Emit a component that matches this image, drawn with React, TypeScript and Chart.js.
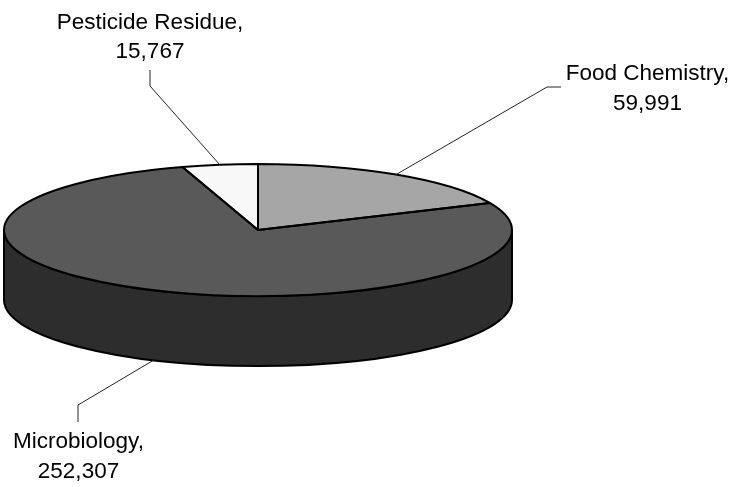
import React, { useEffect, useRef } from "react";
import { Chart, registerables } from "chart.js";

Chart.register(...registerables);

const categories = ["Food Chemistry", "Microbiology", "Pesticide Residue"];
const values = [59991, 252307, 15767];
const topColors = ["#a6a6a6", "#595959", "#f8f8f8"];
const sideColors = ["#535353", "#2d2d2d", "#7c7c7c"];

// Ellipse of the tilted pie top and the height of its wall.
const CX = 258;
const CY = 230;
const RX = 254;
const RY = 66;
const DEPTH = 70;

// Label centre, line baselines and leader elbow for each slice.
const labelX = [647.5, 78.5, 150];
const labelY = [[74, 104], [442, 472], [23, 52]];
const elbows = [
  [[561, 87], [547, 87]],
  [[78, 422], [78, 405]],
  [[150, 70], [150, 86]],
];

const FONT = '22.5px "Liberation Sans", Arial, sans-serif';

function tiltedArc(ctx: CanvasRenderingContext2D, start: number, end: number, dy: number, ccw = false) {
  ctx.ellipse(CX, CY + dy, RX, RY, 0, start, end, ccw);
}

const tiltedPie = {
  id: "tiltedPie",
  beforeDatasetsDraw(chart: any) {
    const { ctx } = chart;
    const arcs = chart.getDatasetMeta(0).data;
    ctx.save();
    // Wall of the disc: only the front half, from 0 to PI, can be seen.
    arcs.forEach((arc: any, i: number) => {
      for (const shift of [0, Math.PI * 2]) {
        const a = Math.max(arc.startAngle + shift, 0);
        const b = Math.min(arc.endAngle + shift, Math.PI);
        if (b <= a) continue;
        ctx.beginPath();
        tiltedArc(ctx, a, b, 0);
        tiltedArc(ctx, b, a, DEPTH, true);
        ctx.closePath();
        ctx.fillStyle = sideColors[i];
        ctx.fill();
        ctx.lineWidth = 2;
        ctx.lineJoin = "round";
        ctx.strokeStyle = "#000";
        ctx.stroke();
      }
    });
    // Flatten the circular slices into the ellipse of the top.
    const first = arcs[0];
    ctx.translate(CX, CY);
    ctx.scale(RX / first.outerRadius, RY / first.outerRadius);
    ctx.translate(-first.x, -first.y);
  },
  afterDatasetsDraw(chart: any) {
    const { ctx } = chart;
    const arcs = chart.getDatasetMeta(0).data;
    ctx.restore();
    ctx.save();
    ctx.strokeStyle = "#000";
    ctx.lineJoin = "round";
    arcs.forEach((arc: any) => {
      ctx.beginPath();
      ctx.moveTo(CX, CY);
      tiltedArc(ctx, arc.startAngle, arc.endAngle, 0);
      ctx.closePath();
      ctx.lineWidth = 2;
      ctx.stroke();
    });
    // Leader lines and two-line value labels.
    ctx.font = FONT;
    ctx.fillStyle = "#000";
    ctx.textAlign = "center";
    ctx.textBaseline = "middle";
    arcs.forEach((arc: any, i: number) => {
      const mid = (arc.startAngle + arc.endAngle) / 2;
      const px = CX + RX * Math.cos(mid);
      const py = CY + RY * Math.sin(mid) + (Math.sin(mid) > 0 ? DEPTH : 0);
      ctx.beginPath();
      ctx.moveTo(elbows[i][0][0], elbows[i][0][1]);
      ctx.lineTo(elbows[i][1][0], elbows[i][1][1]);
      ctx.lineTo(px, py);
      ctx.lineWidth = 1;
      ctx.strokeStyle = "#222";
      ctx.stroke();
      ctx.fillText(`${categories[i]},`, labelX[i], labelY[i][0]);
      ctx.fillText(values[i].toLocaleString("en-US"), labelX[i], labelY[i][1]);
    });
    ctx.restore();
  },
};

export default function App() {
  const ref = useRef<HTMLCanvasElement>(null);
  useEffect(() => {
    const chart = new Chart(ref.current!, {
      type: "pie",
      data: {
        labels: categories,
        datasets: [{ data: values, backgroundColor: topColors, borderWidth: 0 }],
      },
      options: {
        animation: false,
        responsive: false,
        layout: { padding: { left: 4, right: 225, top: 0, bottom: 27 } },
        plugins: { legend: { display: false }, tooltip: { enabled: false } },
      },
      plugins: [tiltedPie],
    });
    return () => chart.destroy();
  }, []);
  return (
    <canvas
      ref={ref}
      width={737}
      height={487}
      style={{ position: "fixed", left: 0, top: 0, display: "block" }}
    />
  );
}
